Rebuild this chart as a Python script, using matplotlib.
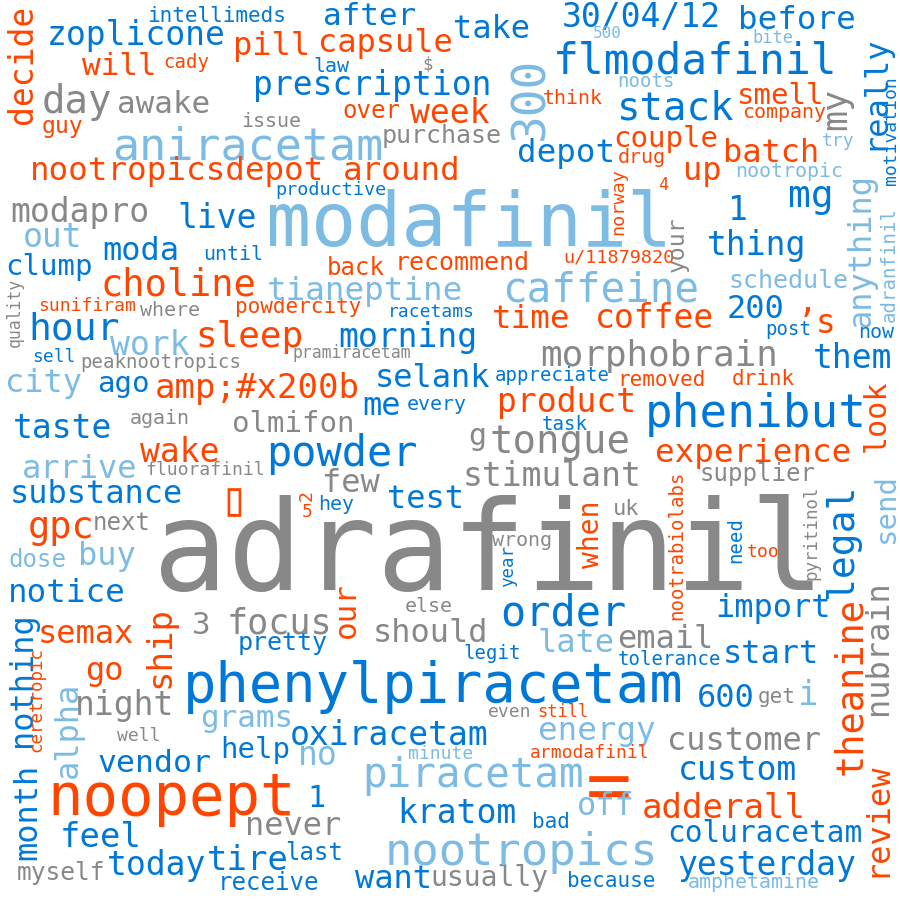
import matplotlib
matplotlib.use("Agg")
import matplotlib.pyplot as plt

# ---- data: words, their weight (font size in px) and colour group ----
words = ["decide","intellimeds","zoplicone","pill","capsule","after","take","30/04/12","before","500",
 "bite","flmodafinil","law","$","noots","prescription","300","think","guy","cady",
 "will","day","awake","issue","aniracetam","over","week","purchase","nootropicsdepot","around",
 "depot","stack","smell","company","my","really","motivation","couple","batch","drug",
 "try","up","nootropic","4","norway","1","mg","anything","adranfinil","out",
 "modapro","live","modafinil","productive","u/11879820","your","thing","schedule","200","\u2019s",
 "post","now","coffee","time","caffeine","them","morphobrain","removed","drink","appreciate",
 "phenibut","product","look","send","experience","supplier","legal","theanine","nubrain","review",
 "moda","until","clump","choline","quality","sunifiram","where","powdercity","tianeptine","back",
 "recommend","racetams","hour","work","sleep","sell","peaknootropics","pramiracetam","morning","city",
 "ago","amp;#x200b","selank","me","every","olmifon","again","taste","task","g",
 "tongue","stimulant","powder","few","test","hey","5","2","wrong","when",
 "year","our","else","should","order","late","legit","focus","3","pretty",
 "phenylpiracetam","ship","semax","go","nothing","month","ceretropic","alpha","night","grams",
 "well","vendor","help","noopept","never","feel","today","tire","last","myself",
 "receive","want","usually","because","amphetamine","yesterday","coluracetam","adderall","custom","customer",
 "600","get","i","energy","even","still","oxiracetam","no","minute","armodafinil",
 "piracetam","=","off","kratom","bad","nootropics","1","wake","arrive","fluorafinil",
 "substance","\u25af","gpc","next","buy","dose","notice","nootrabiolabs","uk","need",
 "too","pyritinol","import","email","start","tolerance","adrafinil"]

sizes = [33,21,33,32,32,31,32,33,32.5,16,
 17,43,20,17,19,33,46,20,23,19,
 31,39,31,20,45,24,33,25,32.5,32.5,
 32.5,39,29,20,35,32,18,29,32,20,
 18,32,20,17,18.5,33,38,32,19,33,
 33,33,75,18.5,18.5,23,33,25,32,33,
 19,20,33,32.5,41,33,36,21,21,19,
 46,33,30,29,32.5,24,38,37,32,32,
 32,20,29,37,16.5,18,20,21,32.5,24,
 25,18,38,33,36,18,19,16.5,33,32,
 29,34,32,32,20,29,20,33,19,30,
 39,33,42,32,32,20,18,18,20,28,
 17.5,31,20,32,42,32,19,35,31,25,
 55.5,34,32,32,32,32,17.5,32,33,31,
 18,31.5,29,59,32,34,33,34,24,24.5,
 24,32,28,21,20,33,29.5,34,33,32,
 32,21,34,32.5,18,17,33,33,18,18,
 41,76,32,33,21,45.5,30,33,32,18,
 32,48,37,24,32,24,32.5,19,22,19,
 18,17.5,32,32,32,19,124]

# colour group: O orange, B blue, L light blue, G gray
groups = ("O B B O O B B B B L "
 "L B B G L B L O O O "
 "O G G G L O O G O O "
 "B B O O G B B O O O "
 "L O L O O B B L L L "
 "G B L B O G B L B O "
 "B B O O L B G O O B "
 "B O O L O G B O G O "
 "B B B O G O G O L O "
 "O B B L O B G G B L "
 "B O B B B G G B B G "
 "G G B G B B O O G O "
 "B O G G B L B G G B "
 "B O O O B B O L G L "
 "G B B O G B B B B G "
 "B B G B L B B O B G "
 "B G L L G O B L L O "
 "L O L B B L B O L G "
 "B O O G L L B O G B "
 "O G B G B B G").split()

# ---- layout (image pixels): horizontal -> (ink left, baseline); vertical -> (baseline x, bottom) ----
layout = [(32,124,90),(147,22,0),(47,45,0),(233,55,0),(318,52,0),(323,25,0),(453,38,0),(562,27,0),(738,29,0),(593,38,0),
 (752,43,0),(553,73,0),(313,72,0),(422,69,0),(617,87,0),(253,95,0),(543,140,90),(543,104,0),(42,133,0),(163,68,0),
 (82,75,0),(42,113,0),(117,113,0),(241,127,0),(112,160,0),(342,118,0),(410,123,0),(382,143,0),(30,180,0),(343,180,0),
 (517,162,0),(617,120,0),(737,104,0),(742,118,0),(846,130,90),(883,150,90),(896,185,90),(613,147,0),(723,162,0),(618,163,0),
 (822,146,0),(683,180,0),(735,177,0),(658,190,0),(623,235,90),(728,220,0),(788,207,0),(870,327,90),(895,322,90),(23,247,0),
 (10,222,0),(177,228,0),(266,246,0),(275,195,0),(563,262,0),(684,272,90),(707,255,0),(728,288,0),(727,318,0),(797,333,0),
 (765,335,0),(858,338,0),(595,328,0),(492,328,0),(502,302,0),(813,368,0),(540,366,0),(617,386,0),(732,385,0),(495,381,0),
 (645,427,0),(497,412,0),(885,452,90),(894,543,90),(655,462,0),(700,481,0),(852,598,90),(861,775,90),(887,715,90),(885,877,90),
 (102,260,0),(203,260,0),(5,275,0),(100,295,0),(19.5,347,90),(38,311,0),(140,316,0),(235,313,0),(267,300,0),(327,275,0),
 (395,270,0),(388,317,0),(28,340,0),(110,355,0),(195,347,0),(32,362,0),(80,368,0),(293,358,0),(338,347,0),(5,392,0),
 (97,392,0),(155,398,0),(375,387,0),(362,415,0),(407,410,0),(232,432,0),(130,424,0),(13,438,0),(542,430,0),(468,445,0),
 (490,453,0),(463,486,0),(266,466,0),(322,492,0),(387,508,0),(318,510,0),(302,517,0),(312,501,90),(492,546,0),(599,568,90),
 (513,587,90),(355,638,90),(405,612,0),(373,642,0),(500,626,0),(537,652,0),(463,659,0),(227,634,0),(192,634,0),(238,650,0),
 (183,702,0),(169,688,90),(38,643,0),(85,680,0),(31,747,90),(36,860,90),(41,752,90),(77,778,90),(75,715,0),(200,727,0),
 (117,741,0),(97,772,0),(220,758,0),(47,815,0),(245,835,0),(60,847,0),(107,875,0),(207,870,0),(285,860,0),(17,880,0),
 (218,890,0),(355,888,0),(430,886,0),(567,887,0),(688,888,0),(677,875,0),(667,842,0),(642,818,0),(678,780,0),(667,750,0),
 (697,707,0),(758,703,0),(798,705,0),(538,740,0),(488,717,0),(537,717,0),(290,745,0),(298,765,0),(408,759,0),(530,758,0),
 (362,787,0),(586,810,0),(577,815,0),(397,823,0),(532,828,0),(385,865,0),(307,807,0),(140,462,0),(22,478,0),(145,475,0),
 (10,503,0),(219,515,0),(28,538,0),(93,530,0),(78,565,0),(8,567,0),(8,602,0),(682,620,90),(613,515,0),(741,563,90),
 (747,557,0),(816,580,90),(715,617,0),(617,648,0),(723,663,0),(618,665,0),(153,590,0)]

palette = {"O": "#ff4500", "B": "#0078d7", "L": "#7cbbe3", "G": "#888888"}

W = H = 900
DPI = 100
fig = plt.figure(figsize=(W / DPI, H / DPI), dpi=DPI)
fig.patch.set_facecolor("white")
ax = fig.add_axes([0, 0, 1, 1])
ax.set_xlim(0, W)
ax.set_ylim(H, 0)
ax.axis("off")

for w, s, g, (x, y, r) in zip(words, sizes, groups, layout):
    ax.text(x, y, w, fontsize=s * 72 / DPI, color=palette[g],
            family=["DejaVu Sans Mono", "DejaVu Sans"],
            ha="left", va="baseline", rotation=r, rotation_mode="anchor")

fig.savefig("out.png", dpi=DPI, facecolor="white")
